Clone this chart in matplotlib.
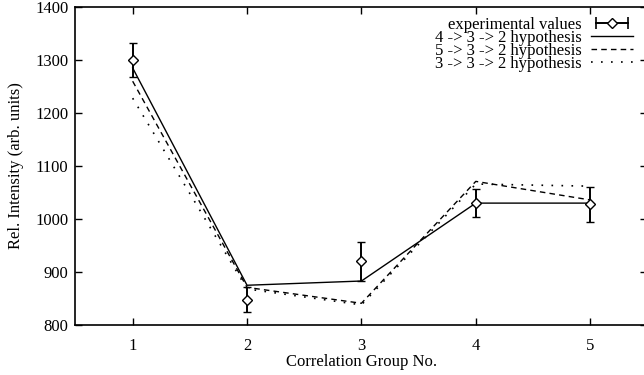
import matplotlib
matplotlib.use('Agg')
import matplotlib.pyplot as plt
from matplotlib.lines import Line2D
from matplotlib.legend_handler import HandlerLine2D, HandlerTuple

plt.rcParams['font.family'] = ['Liberation Serif', 'DejaVu Serif']

groups = [1, 2, 3, 4, 5]
exp_vals = [1300, 848, 920, 1030, 1028]
exp_err = [32, 24, 37, 27, 33]
hyp_432 = [1285, 875, 883, 1030, 1030]
hyp_532 = [1260, 871, 841, 1071, 1036]
hyp_332 = [1228, 868, 838, 1066, 1062]

fig = plt.figure(figsize=(6.44, 3.75), dpi=100)
# right spine sits just outside the picture, as in the original
ax = fig.add_axes([0.1172, 0.1333, 0.888, 0.848])

ax.errorbar(groups, exp_vals, yerr=exp_err, fmt='D', ms=5, mfc='white', mec='black',
            mew=1.0, ecolor='black', elinewidth=1.4, capsize=3, capthick=1.2, zorder=3)
ax.plot(groups, hyp_432, color='black', lw=1.0, ls='-')
ax.plot(groups, hyp_532, color='black', lw=1.0, ls=(0, (4, 3)))
ax.plot(groups, hyp_332, color='black', lw=1.2, ls=(0, (1, 5)))

ax.set_xlim(0.5, 5.5)
ax.set_ylim(800, 1400)
ax.set_xticks(groups)
ax.set_yticks([800, 900, 1000, 1100, 1200, 1300, 1400])
ax.tick_params(direction='in', top=True, right=True, length=5, width=1.0, labelsize=12)
ax.tick_params(axis='x', pad=9)
ax.tick_params(axis='y', pad=5)
for s in ax.spines.values():
    s.set_linewidth(1.2)

ax.set_xlabel('Correlation Group No.', fontsize=12, labelpad=0)
ax.set_ylabel('Rel. Intensity (arb. units)', fontsize=12, labelpad=8)

# gnuplot style key
caps = Line2D([], [], color='black', lw=1.4, marker='|', ms=8, mew=1.2)
dia = Line2D([], [], ls='none', marker='D', ms=5, mfc='white', mec='black')
h1 = Line2D([], [], color='black', lw=1.0)
h2 = Line2D([], [], color='black', lw=1.0, ls=(0, (4, 3)))
h3 = Line2D([], [], color='black', lw=1.2, ls=(0, (1, 5)))
leg = ax.legend([(caps, dia), h1, h2, h3],
                ['experimental values', '4 -> 3 -> 2 hypothesis',
                 '5 -> 3 -> 2 hypothesis', '3 -> 3 -> 2 hypothesis'],
                handler_map={caps: HandlerLine2D(numpoints=2), dia: HandlerLine2D(numpoints=1),
                             tuple: HandlerTuple(ndivide=1, pad=0)},
                loc='upper right', bbox_to_anchor=(0.995, 1.005), frameon=False, markerfirst=False,
                fontsize=12, handlelength=2.5, handletextpad=0.55, labelspacing=-0.18,
                borderaxespad=0.3)

fig.savefig('out.png', dpi=100)
